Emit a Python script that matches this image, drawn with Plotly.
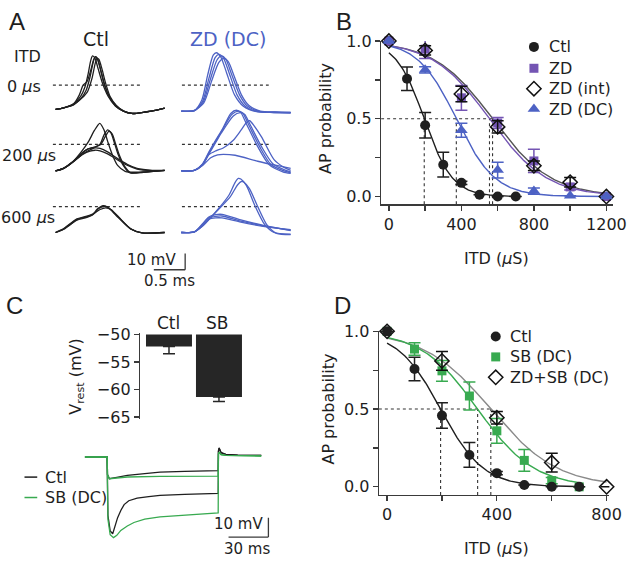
import numpy as np
import plotly.graph_objects as go

W, H = 640, 567
FONT = "DejaVu Sans"
TXT = "#1e1e1e"
AX = "#3a3a3a"
BLACK = "#1f1f1f"
PURPLE = "#7455b3"
BLUE = "#4d62c4"
GREEN = "#38aa50"
GREY = "#8a8a8a"
DKGREY = "#555555"

# ---------------- data ----------------
# Panel B : AP probability vs ITD
itd_ctl = [0, 100, 200, 300, 400, 500, 600, 700]
ctl_p = [1.0, 0.758, 0.458, 0.205, 0.088, 0.012, 0.0, 0.0]
ctl_e = [0, 0.076, 0.082, 0.08, 0.01, 0, 0, 0]

itd_zd = [0, 200, 400, 600, 800, 1000, 1200]
zd_p = [1.0, 0.948, 0.635, 0.473, 0.229, 0.062, 0.0]
zd_e = [0, 0.06, 0.08, 0.035, 0.075, 0.02, 0]
zdint_p = [1.0, 0.94, 0.66, 0.448, 0.198, 0.092, 0.0]
zdint_e = [0, 0.03, 0.05, 0.04, 0.03, 0.03, 0]
zddc_p = [1.0, 0.815, 0.427, 0.17, 0.035, 0.005, 0.0]
zddc_e = [0, 0.02, 0.045, 0.05, 0.02, 0, 0]

# Boltzmann fit parameters (half point, slope) in us
fit_ctl = (195, 78)
fit_zd = (555, 158)
fit_zdint = (572, 162)
fit_zddc = (372, 107)

# Panel D
itd_sb = [0, 100, 200, 300, 400, 500, 600, 700]
sb_p = [1.0, 0.886, 0.746, 0.584, 0.36, 0.17, 0.04, 0.0]
sb_e = [0, 0.04, 0.067, 0.09, 0.08, 0.07, 0.02, 0]
itd_zdsb = [0, 200, 400, 600, 800]
zdsb_p = [1.0, 0.81, 0.444, 0.156, 0.0]
zdsb_e = [0, 0.06, 0.04, 0.06, 0]
fit_sb = (330, 103)
fit_zdsb = (378, 122)

# Panel C bars: resting potential (mV)
vrest_cat = ["Ctl", "SB"]
vrest_mean = [-52.2, -61.4]
vrest_sem = [1.3, 0.8]

# Panel C voltage traces (time ms, voltage mV rel. baseline)
c_ctl_small_t = [0, 16.7, 17.0, 18.4, 24, 31.9, 45, 56.5, 75, 100.3, 100.5, 101.0, 102.5, 106, 115, 132.7]
c_ctl_small_v = [0, 0, -9, -11.2, -10.5, -9.5, -8.6, -7.8, -7.4, -7.0, 3.0, 4.7, 2.2, 1.4, 1.0, 0.8]
c_sb_small_t = [0, 16.7, 17.0, 18.4, 24, 31.9, 56.5, 100.3, 100.5, 101.0, 102.5, 106, 132.7]
c_sb_small_v = [0, 0, -9, -11.2, -10.8, -10.3, -10.0, -9.8, 1.5, 2.5, 1.2, 0.8, 0.5]
c_ctl_large_t = [0, 16.7, 17.3, 19, 20.9, 22.5, 24.6, 27, 29.5, 33, 39.3, 48, 56.5, 75, 100.3, 100.5, 101.0, 102.5, 106, 115, 132.7]
c_ctl_large_v = [0, 0, -30, -38, -39.5, -36, -31.2, -27.5, -24.5, -22.5, -21.2, -20.4, -19.8, -19.2, -18.7, 3.0, 4.5, 2.2, 1.4, 1.0, 0.8]
c_sb_large_t = [0, 16.7, 17.3, 19, 21.5, 24, 27, 31.9, 36.9, 45, 56.5, 75, 100.3, 100.5, 101.0, 102.5, 106, 132.7]
c_sb_large_v = [0, 0, -32, -40, -41.5, -40.3, -37.8, -35.5, -33.7, -32, -30.8, -29.8, -28.7, 1.5, 2.5, 1.2, 0.8, 0.5]

# Panel A traces (time ms, voltage mV rel. baseline); rows: 0, 200, 600 us ITD
a_ctl = [
    [  # 0 us
        ([0, 0.13, 0.29, 0.41, 0.49, 0.55, 0.60, 0.63, 0.66, 0.71, 0.77, 0.85, 0.96, 1.08, 1.22, 1.43, 1.61, 1.74],
         [0, 1, 3, 7, 12, 20, 29, 32.5, 32, 26, 17, 8.5, 2.5, -1, -2.5, -1.6, -0.4, 0.8]),
        ([0, 0.13, 0.29, 0.40, 0.47, 0.52, 0.56, 0.59, 0.63, 0.68, 0.75, 0.84, 0.95, 1.08, 1.22, 1.43, 1.61, 1.74],
         [0, 1, 3.5, 8, 14, 22, 30, 33, 31.5, 25, 16, 8, 2.3, -1, -2.5, -1.6, -0.4, 0.8]),
        ([0, 0.13, 0.29, 0.42, 0.51, 0.58, 0.63, 0.66, 0.69, 0.74, 0.80, 0.87, 0.97, 1.09, 1.22, 1.43, 1.61, 1.74],
         [0, 1, 3, 7, 11, 19, 28, 31.5, 31, 25, 16, 8, 2.5, -1, -2.5, -1.6, -0.4, 0.8]),
        ([0, 0.13, 0.29, 0.38, 0.44, 0.50, 0.56, 0.61, 0.64, 0.67, 0.72, 0.78, 0.86, 0.96, 1.08, 1.22, 1.43, 1.61, 1.74],
         [0, 1, 3.5, 9, 15, 17, 24, 31, 32.5, 31, 24, 15, 7.5, 2, -1, -2.5, -1.6, -0.4, 0.8]),
    ],
    [  # 200 us
        ([0, 0.13, 0.29, 0.41, 0.52, 0.62, 0.705, 0.77, 0.83, 0.90, 0.99, 1.11, 1.30, 1.54, 1.74],
         [0, 1.6, 6.4, 11.8, 17.8, 25, 29.4, 25.6, 18.4, 10.6, 3.4, -0.2, -0.8, -0.2, 0.4]),
        ([0, 0.13, 0.29, 0.41, 0.52, 0.63, 0.71, 0.77, 0.83, 0.88, 0.94, 1.0, 1.08, 1.18, 1.38, 1.74],
         [0, 1.6, 6, 10.6, 13.6, 14.8, 16.6, 22, 25.4, 23.8, 17.2, 10, 3.4, -1.1, -0.8, 0.4]),
        ([0, 0.13, 0.29, 0.41, 0.52, 0.63, 0.72, 0.79, 0.85, 0.90, 0.96, 1.02, 1.10, 1.20, 1.40, 1.74],
         [0, 1.6, 6, 10.6, 13.6, 14.8, 16.4, 21, 24.5, 23, 16.5, 9.5, 3, -1.2, -0.8, 0.4]),
        ([0, 0.13, 0.29, 0.44, 0.55, 0.63, 0.71, 0.83, 0.99, 1.15, 1.30, 1.54, 1.74],
         [0, 1.6, 5.8, 10.6, 13, 14.2, 13.9, 11.8, 7.6, 4, 1.6, 0.4, 0.4]),
        ([0, 0.13, 0.29, 0.44, 0.55, 0.63, 0.71, 0.83, 0.99, 1.15, 1.30, 1.54, 1.74],
         [0, 1.8, 6.2, 10.4, 12.2, 12.8, 12.4, 10.6, 6.8, 3.4, 1.2, 0.2, 0.2]),
    ],
    [  # 600 us
        ([0, 0.13, 0.34, 0.47, 0.60, 0.69, 0.78, 0.86, 0.99, 1.20, 1.38, 1.74],
         [0, 2.2, 8, 9.4, 11.2, 14.8, 16.2, 14.8, 10, 2.2, -0.2, 0]),
        ([0, 0.13, 0.34, 0.47, 0.60, 0.71, 0.80, 0.89, 1.01, 1.21, 1.38, 1.74],
         [0, 2.4, 8.4, 9.8, 11.6, 14.2, 15.2, 14, 9.4, 2, -0.2, 0]),
        ([0, 0.13, 0.34, 0.47, 0.58, 0.67, 0.76, 0.84, 0.97, 1.19, 1.38, 1.74],
         [0, 2, 7.6, 9, 10.6, 14.6, 16.6, 15.4, 10.4, 2.4, -0.2, 0]),
    ],
]
a_zd = [
    [  # 0 us
        ([0, 0.21, 0.34, 0.44, 0.54, 0.60, 0.67, 0.76, 0.89, 1.02, 1.22, 1.48, 1.745],
         [0, 0.3, 6, 20, 33, 35, 33, 24, 10, 3, -0.4, -0.9, -1]),
        ([0, 0.21, 0.33, 0.42, 0.51, 0.56, 0.63, 0.72, 0.85, 0.99, 1.20, 1.48, 1.745],
         [0, 0.4, 7, 22, 34.5, 36, 33.5, 24, 10, 3, -0.4, -0.9, -1.2]),
        ([0, 0.21, 0.35, 0.46, 0.57, 0.64, 0.71, 0.80, 0.93, 1.05, 1.24, 1.48, 1.745],
         [0, 0.3, 5.5, 19, 31.5, 34, 32, 23, 10, 3.2, -0.2, -0.7, -0.9]),
        ([0, 0.21, 0.36, 0.48, 0.60, 0.68, 0.75, 0.84, 0.96, 1.08, 1.26, 1.50, 1.745],
         [0, 0.3, 5, 18, 30, 32.5, 30.5, 22, 10, 3.4, 0, -0.6, -0.8]),
    ],
    [  # 200 us
        ([0, 0.21, 0.34, 0.44, 0.55, 0.65, 0.81, 0.91, 0.98, 1.07, 1.25, 1.43, 1.64, 1.745],
         [0, 0.4, 4, 11, 18.4, 25, 35, 37, 35.8, 29, 15, 4, 0, -1.1]),
        ([0, 0.21, 0.34, 0.44, 0.55, 0.66, 0.79, 0.88, 0.95, 1.04, 1.22, 1.40, 1.62, 1.745],
         [0, 0.4, 4.4, 11.6, 19, 26, 35.5, 37.5, 36, 29, 15, 4, -0.5, -1.5]),
        ([0, 0.21, 0.34, 0.44, 0.55, 0.64, 0.83, 0.94, 1.01, 1.10, 1.28, 1.46, 1.66, 1.745],
         [0, 0.4, 3.6, 10.4, 17.6, 23.5, 34, 36, 35, 28.5, 15, 4.5, 0.5, -0.6]),
        ([0, 0.21, 0.34, 0.44, 0.55, 0.67, 0.83, 0.95, 1.05, 1.09, 1.16, 1.28, 1.48, 1.64, 1.745],
         [0, 0.4, 4, 10, 12.4, 14.2, 19, 25, 30.4, 31, 28, 21, 7, 2.2, 0.4]),
        ([0, 0.21, 0.34, 0.47, 0.58, 0.67, 0.86, 1.22, 1.48, 1.745],
         [0, 0.4, 3.4, 8.2, 10, 10.3, 9.7, 6, 3.7, 1.6]),
    ],
    [  # 600 us
        ([0, 0.21, 0.34, 0.44, 0.60, 0.76, 0.86, 0.91, 0.95, 1.04, 1.17, 1.33, 1.48, 1.745],
         [0, 0.4, 4, 8, 15, 23, 31, 33.4, 33, 29, 17, 5, 0, -1]),
        ([0, 0.21, 0.34, 0.44, 0.60, 0.78, 0.90, 0.96, 1.00, 1.09, 1.22, 1.37, 1.52, 1.745],
         [0, 0.4, 4, 8, 14.5, 22, 29.5, 31.5, 31, 27, 16, 4.5, -0.5, -1.3]),
        ([0, 0.21, 0.34, 0.44, 0.55, 0.65, 0.95, 1.33, 1.745],
         [0, 0.4, 5, 9, 10, 10.2, 7, 4, 1.5]),
        ([0, 0.21, 0.34, 0.44, 0.55, 0.65, 0.95, 1.33, 1.745],
         [0, 0.4, 5.4, 9.6, 11, 11.2, 7.8, 4.2, 1.2]),
        ([0, 0.21, 0.34, 0.44, 0.55, 0.65, 0.95, 1.33, 1.745],
         [0, 0.4, 4.6, 8.2, 9, 9, 6.4, 3.6, 1.8]),
    ],
]
a_row_labels = ["0 <i>μ</i>s", "200 <i>μ</i>s", "600 <i>μ</i>s"]
a_threshold = [15, 16.4, 16]   # mV above baseline

# ---------------- helpers ----------------
def pxx(x):
    return x / W

def pxy(y):
    return 1 - y / H

def boltz(x, p):
    x50, k = p
    return 1.0 / (1.0 + np.exp((np.asarray(x) - x50) / k))

fig = go.Figure()

# ---------------- Panel A ----------------
A_X0 = {"ctl": 56.7 / 64, "zd": 185 / 64}
A_BASE = [-62, -100, -138]
for key, groups, color in (("ctl", a_ctl, BLACK), ("zd", a_zd, BLUE)):
    for r, group in enumerate(groups):
        base = A_BASE[r] - (1 if (key == "zd" and r == 0) else 0)
        for t, v in group:
            fig.add_trace(go.Scatter(
                x=[A_X0[key] + ti for ti in t], y=[base + vi for vi in v],
                mode="lines", line=dict(color=color, width=1.3, shape="spline", smoothing=0.7),
                xaxis="x", yaxis="y", hoverinfo="skip", showlegend=False))

shapes = []
for r in range(3):
    yv_ = A_BASE[r] + a_threshold[r]
    for xa, xb in ((54 / 64, 143 / 64), (185.7 / 64, 274.3 / 64)):
        shapes.append(dict(type="line", xref="x", yref="y", x0=xa, x1=xb, y0=yv_, y1=yv_,
                           line=dict(color="#333", width=1.1, dash="dot"), layer="below"))
# scale bar A: 10 mV / 0.5 ms
sbx, sby = 189 / 64, -161
shapes.append(dict(type="line", xref="x", yref="y", x0=sbx, x1=sbx, y0=sby, y1=sby + 10,
                   line=dict(color=AX, width=1.3)))
shapes.append(dict(type="line", xref="x", yref="y", x0=sbx - 0.5, x1=sbx, y0=sby, y1=sby,
                   line=dict(color=AX, width=1.3)))

# ---------------- Panel B ----------------
xs_b = np.linspace(0, 1200, 241)
xs_ctl = np.linspace(0, 700, 141)
for xs, p, col in ((xs_b, fit_zdint, DKGREY), (xs_b, fit_zd, PURPLE), (xs_b, fit_zddc, BLUE), (xs_ctl, fit_ctl, BLACK)):
    fig.add_trace(go.Scatter(x=xs, y=boltz(xs, p), mode="lines", line=dict(color=col, width=1.4),
                             xaxis="x2", yaxis="y2", hoverinfo="skip", showlegend=False))

def pts(x, y, e, sym, col, size, ax, fill=None):
    mk = dict(symbol=sym, size=size, color=col if fill is None else fill,
              line=dict(color=col, width=1.5 if fill is not None else 0))
    return go.Scatter(x=x, y=y, mode="markers", marker=mk, cliponaxis=False,
                      error_y=dict(type="data", array=e, color=col, thickness=1.5, width=6),
                      xaxis="x" + ax, yaxis="y" + ax, hoverinfo="skip", showlegend=False)

fig.add_trace(pts(itd_ctl, ctl_p, ctl_e, "circle", BLACK, 10, "2"))
fig.add_trace(pts(itd_zd, zd_p, zd_e, "square", PURPLE, 9, "2"))
fig.add_trace(pts(itd_zd, zdint_p, zdint_e, "diamond", "#111", 11, "2", fill="rgba(255,255,255,0)"))
fig.add_trace(pts(itd_zd, zddc_p, zddc_e, "triangle-up", BLUE, 11, "2"))

for p in (fit_ctl, fit_zddc, fit_zd, fit_zdint):
    shapes.append(dict(type="line", xref="x2", yref="y2", x0=p[0], x1=p[0], y0=-0.05, y1=0.5,
                       line=dict(color="#333", width=1.1, dash="dot"), layer="below"))
shapes.append(dict(type="line", xref="x2", yref="y2", x0=-43, x1=fit_zdint[0], y0=0.5, y1=0.5,
                   line=dict(color="#333", width=1.1, dash="dot"), layer="below"))

# ---------------- Panel C bars ----------------
fig.add_trace(go.Bar(x=[0, 1], y=[m - (-50) for m in vrest_mean], base=-50, width=0.92,
                     marker=dict(color="#262626", line=dict(width=0)),
                     xaxis="x3", yaxis="y3", hoverinfo="skip", showlegend=False))
fig.add_trace(go.Scatter(x=[0, 1], y=vrest_mean, mode="markers",
                         marker=dict(size=1, color="#262626"), cliponaxis=False,
                         error_y=dict(type="data", symmetric=False, array=[0, 0], arrayminus=vrest_sem,
                                      color="#262626", thickness=1.5, width=6),
                         xaxis="x3", yaxis="y3", hoverinfo="skip", showlegend=False))

# ---------------- Panel C traces ----------------
for t, v, col in ((c_ctl_small_t, c_ctl_small_v, BLACK), (c_ctl_large_t, c_ctl_large_v, BLACK),
                  (c_sb_small_t, c_sb_small_v, GREEN), (c_sb_large_t, c_sb_large_v, GREEN)):
    fig.add_trace(go.Scatter(x=t, y=v, mode="lines", line=dict(color=col, width=1.3),
                             xaxis="x4", yaxis="y4", hoverinfo="skip", showlegend=False))
csx, csy = 138.1, -41.2
shapes.append(dict(type="line", xref="x4", yref="y4", x0=csx, x1=csx, y0=csy, y1=csy + 10,
                   line=dict(color=AX, width=1.3)))
shapes.append(dict(type="line", xref="x4", yref="y4", x0=csx - 30, x1=csx, y0=csy, y1=csy,
                   line=dict(color=AX, width=1.3)))

# ---------------- Panel D ----------------
xs_d = np.linspace(0, 800, 161)
xs_d7 = np.linspace(0, 700, 141)
for xs, p, col in ((xs_d, fit_zdsb, GREY), (xs_d7, fit_sb, GREEN), (xs_d7, fit_ctl, BLACK)):
    fig.add_trace(go.Scatter(x=xs, y=boltz(xs, p), mode="lines", line=dict(color=col, width=1.4),
                             xaxis="x5", yaxis="y5", hoverinfo="skip", showlegend=False))
fig.add_trace(pts(itd_sb, sb_p, sb_e, "square", GREEN, 9, "5"))
fig.add_trace(pts(itd_zdsb, zdsb_p, zdsb_e, "diamond", "#111", 11, "5", fill="rgba(255,255,255,0)"))
fig.add_trace(pts(itd_ctl, ctl_p, ctl_e, "circle", BLACK, 10, "5"))
for p in (fit_ctl, fit_sb, fit_zdsb):
    shapes.append(dict(type="line", xref="x5", yref="y5", x0=p[0], x1=p[0], y0=-0.052, y1=0.5,
                       line=dict(color="#333", width=1.1, dash="dot"), layer="below"))
shapes.append(dict(type="line", xref="x5", yref="y5", x0=-30, x1=fit_zdsb[0], y0=0.5, y1=0.5,
                   line=dict(color="#333", width=1.1, dash="dot"), layer="below"))

# ---------------- legends (manual, pixel overlay axis) ----------------
leg_b = [("Ctl", "circle", BLACK, 10, None), ("ZD", "square", PURPLE, 9, None),
         ("ZD (int)", "diamond", "#111", 11, "white"), ("ZD (DC)", "triangle-up", BLUE, 11, None)]
leg_b_rows = [39, 61, 82, 103]
leg_d = [("Ctl", "circle", BLACK, 10, None), ("SB (DC)", "square", GREEN, 9, None),
         ("ZD+SB (DC)", "diamond", "#111", 11, "white")]
leg_d_rows = [337, 358, 379]

annotations = []
def txt(x, y, s, size=16, color=TXT, xanchor="center", yanchor="middle", angle=0, family=FONT):
    annotations.append(dict(x=pxx(x), y=pxy(y), xref="paper", yref="paper", text=s, showarrow=False,
                            font=dict(family=family, size=size, color=color),
                            xanchor=xanchor, yanchor=yanchor, textangle=angle, borderpad=0))

for (lab, sym, col, size, fill), ry, mx in [(l, r, 545) for l, r in zip(leg_b, leg_b_rows)] + \
                                         [(l, r, 506) for l, r in zip(leg_d, leg_d_rows)]:
    fig.add_trace(go.Scatter(x=[mx], y=[ry], mode="markers",
                             marker=dict(symbol=sym, size=size, color=col if fill is None else fill,
                                         line=dict(color=col, width=1.5 if fill else 0)),
                             xaxis="x6", yaxis="y6", hoverinfo="skip", showlegend=False))
    txt(mx + 14, ry, lab, size=16, xanchor="left")

# legend C (lines)
for ry, col, lab in ((481.7, BLACK, "Ctl"), (502.7, GREEN, "SB (DC)")):
    shapes.append(dict(type="line", xref="paper", yref="paper", x0=pxx(25), x1=pxx(38),
                       y0=pxy(ry), y1=pxy(ry), line=dict(color=col, width=1.5)))
    txt(45, ry, lab, size=16, xanchor="left")

# ---------------- texts ----------------
LET = "Liberation Sans"
txt(17, 13, "A", size=24, family=LET)
txt(351, 13, "B", size=24, family=LET)
txt(15, 305, "C", size=24, family=LET)
txt(350, 305, "D", size=24, family=LET)

txt(98, 31, "Ctl", size=19)
txt(233, 31, "ZD (DC)", size=19, color=BLUE)
txt(28, 49, "ITD", size=16)
txt(43, 80, a_row_labels[0], size=16, xanchor="right")
txt(58, 151, a_row_labels[1], size=16, xanchor="right")
txt(57, 215, a_row_labels[2], size=16, xanchor="right")
txt(181, 258, "10 mV", size=15, xanchor="right")
txt(173, 280, "0.5 ms", size=15)

txt(333, 113, "AP probability", size=16, angle=-90)
txt(507, 257, "ITD (<i>μ</i>S)", size=16)
txt(335, 412, "AP probability", size=16, angle=-90)
txt(507, 555, "ITD (<i>μ</i>S)", size=16)

txt(172, 323, vrest_cat[0], size=17)
txt(222, 323, vrest_cat[1], size=17)
txt(78, 378, "V<sub>rest</sub> (mV)", size=16, angle=-90)
txt(269, 530, "10 mV", size=15, xanchor="right")
txt(252, 556, "30 ms", size=15)

# ---------------- axes ----------------
def hidden(dom, rng, anchor):
    return dict(domain=dom, range=rng, visible=False, anchor=anchor, fixedrange=True)

def shown(dom, rng, anchor, dtick, minor_dtick=None, fmt=None, tv=None, tt=None):
    d = dict(domain=dom, range=rng, anchor=anchor, showline=True, linecolor=AX, linewidth=1.3,
             ticks="outside", ticklen=5, tickwidth=1.3, tickcolor=AX,
             showgrid=False, zeroline=False, fixedrange=True,
             tickfont=dict(family=FONT, size=16, color=TXT))
    if tv is not None:
        d.update(tickmode="array", tickvals=tv, ticktext=tt)
    else:
        d.update(tickmode="linear", tick0=0, dtick=dtick)
    if fmt:
        d["tickformat"] = fmt
    if minor_dtick:
        d["minor"] = dict(tickmode="linear", tick0=0, dtick=minor_dtick, ticks="outside", ticklen=5,
                          tickwidth=1.3, tickcolor=AX, showgrid=False)
    return d

layout = dict(
    width=W, height=H, margin=dict(l=0, r=0, t=0, b=0),
    paper_bgcolor="white", plot_bgcolor="rgba(0,0,0,0)",
    font=dict(family=FONT, color=TXT), showlegend=False,
    xaxis=hidden([0, pxx(300)], [0, 300 / 64], "y"),
    yaxis=hidden([pxy(290), 1], [-174, 0], "x"),
    xaxis2=shown([pxx(389), pxx(626)], [-43, 1238], "y2", 400, 200),
    yaxis2=shown([pxy(201), pxy(33)], [-0.05, 1.0], "x2", 0.5, 0.25, ".1f"),
    xaxis3=hidden([pxx(143), pxx(248)], [-0.578, 1.48], "y3"),
    yaxis3=shown([pxy(422), pxy(333)], [-65.4, -49.65], "x3", None,
                 tv=[-50, -55, -60, -65], tt=["\u221250", "\u221255", "\u221260", "\u221265"]),
    xaxis4=hidden([pxx(80), pxx(280)], [-4.94, 142.55], "y4"),
    yaxis4=hidden([pxy(560), pxy(440)], [-49.5, 10.5], "x4"),
    xaxis5=shown([pxx(386.7), pxx(622)], [-30, 810], "y5", 400, 200),
    yaxis5=shown([pxy(500), pxy(331.7)], [-0.052, 1.0], "x5", 0.5, 0.25, ".1f"),
    xaxis6=hidden([0, 1], [0, W], "y6"),
    yaxis6=hidden([0, 1], [H, 0], "x6"),
    shapes=shapes, annotations=annotations,
)
fig.update_layout(**layout)
fig.write_html("out.html", config={"displayModeBar": False, "staticPlot": True},
               post_script="document.body.style.margin='0';document.body.style.overflow='hidden';")
